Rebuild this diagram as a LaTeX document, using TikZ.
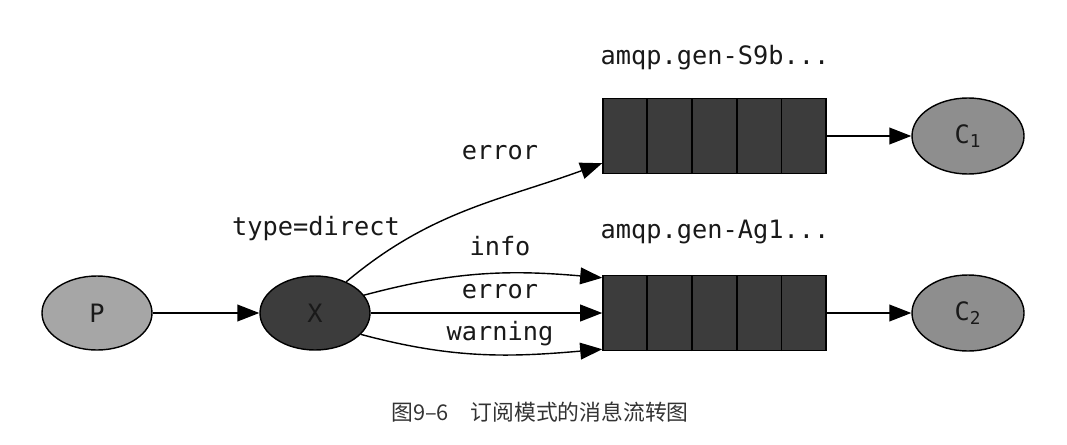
\documentclass[tikz,border=0pt]{standalone}
\usepackage{fontspec}
\setmonofont{DejaVu Sans Mono}
\newfontfamily\cjkfont{Noto Sans CJK SC}
\usetikzlibrary{arrows.meta,calc,shapes.geometric}

\definecolor{oscuro}{HTML}{3C3C3C}
\definecolor{claro}{HTML}{A6A6A6}
\definecolor{medio}{HTML}{8E8E8E}

\tikzset{
  nodo/.style={ellipse,draw=black,minimum width=2.75cm,minimum height=1.85cm,
    font=\ttfamily\fontsize{18}{20}\selectfont,text=black!90},
  cola/.style={rectangle,draw=black,fill=oscuro,minimum width=5.575cm,minimum height=1.875cm},
  etiqueta/.style={font=\ttfamily\fontsize{18}{20}\selectfont,text=black!90}
}

\begin{document}
\begin{tikzpicture}[>={Triangle[length=0.55cm,width=0.42cm]},line width=1pt]
\useasboundingbox (0,0) rectangle (26.675,11.1);

% productor y exchange
\node[nodo,fill=claro] (P) at (2.425,3.275) {P};
\node[nodo,fill=oscuro] (X) at (7.875,3.275) {X};
\node[etiqueta] at (7.9,5.375) {type=direct};

% colas
\node[cola] (q1) at (17.86,7.7) {};
\node[cola] (q2) at (17.86,3.275) {};
\foreach \q in {q1,q2}
  \foreach \i in {1,...,4}
    \draw ($(\q.south west)!\i/5!(\q.south east)$) -- ($(\q.north west)!\i/5!(\q.north east)$);
\node[etiqueta] at (17.875,9.65) {amqp.gen-S9b...};
\node[etiqueta] at (17.875,5.3) {amqp.gen-Ag1...};

% consumidores
\node[nodo,fill=medio,minimum width=2.8cm,minimum height=1.9cm] (C1) at (24.2,7.7) {C\textsubscript{1}};
\node[nodo,fill=medio,minimum width=2.8cm,minimum height=1.9cm] (C2) at (24.2,3.275) {C\textsubscript{2}};

% enlaces
\draw[->] (P) -- (X);
\draw[->] (q1) -- (C1);
\draw[->] (q2) -- (C2);
\coordinate (e1) at ($(q1.south west)+(0,0.275)$);
\coordinate (e2) at ($(q2.north west)+(0,-0.075)$);
\coordinate (e3) at ($(q2.south west)+(0,0.05)$);
\draw[->] (X.45) to[out=40,in=-160] (e1);
\draw[->] (X.20) to[out=15,in=175] (e2);
\draw[->] (X.east) -- (q2.west);
\draw[->] (X.-25) to[out=-15,in=185] (e3);

% claves de enrutamiento
\node[etiqueta] at (12.5,7.275) {error};
\node[etiqueta] at (12.5,4.95) {info};
\node[etiqueta] at (12.5,3.8) {error};
\node[etiqueta] at (12.5,2.75) {warning};

% pie
\node[text=black!80,font=\cjkfont\fontsize{15.5}{17}\selectfont] at (13.5,0.8) {图9–6　订阅模式的消息流转图};
\end{tikzpicture}
\end{document}
